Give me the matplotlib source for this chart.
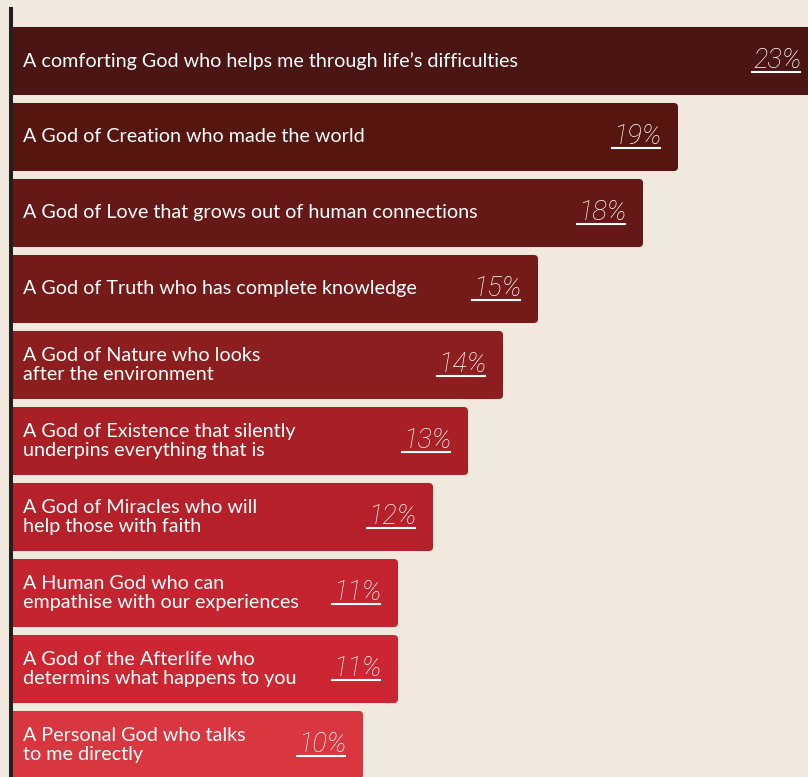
import matplotlib.pyplot as plt
from matplotlib.patches import FancyBboxPatch
from matplotlib.lines import Line2D

labels = [
    "A comforting God who helps me through life\u2019s difficulties",
    "A God of Creation who made the world",
    "A God of Love that grows out of human connections",
    "A God of Truth who has complete knowledge",
    "A God of Nature who looks\nafter the environment",
    "A God of Existence that silently\nunderpins everything that is",
    "A God of Miracles who will\nhelp those with faith",
    "A Human God who can\nempathise with our experiences",
    "A God of the Afterlife who\ndetermins what happens to you",
    "A Personal God who talks\nto me directly",
]
values = [23, 19, 18, 15, 14, 13, 12, 11, 11, 10]
colors = ["#4b1513", "#57150f", "#651815", "#741a19", "#8c1e1f",
          "#a81f26", "#b6202a", "#c42330", "#cc2633", "#d8373f"]

bg = "#f1e8de"
W, H = 808, 777
fig = plt.figure(figsize=(W / 100, H / 100), dpi=100, facecolor=bg)
ax = fig.add_axes([13 / W, 0, 1 - 13 / W, (H - 9) / H])
ax.set_facecolor(bg)

ypos = list(range(len(values)))
bars = ax.barh(ypos, values, height=0.895, color=colors)
ax.set_xlim(0, (W - 13) / 35)
ax.set_ylim(9.421, -0.684)

# swap plain rectangles for rounded ones
for b, c in zip(bars, colors):
    x, y, w, h = b.get_x(), b.get_y(), b.get_width(), b.get_height()
    b.remove()
    ax.add_patch(FancyBboxPatch((x - 0.3, y), w + 0.3, h,
                                boxstyle="round,pad=0,rounding_size=0.12",
                                mutation_aspect=0.44, fc=c, ec="none"))

for spine in ["top", "right", "bottom"]:
    ax.spines[spine].set_visible(False)
ax.spines["left"].set_position(("outward", 1.5))
ax.spines["left"].set_linewidth(2.9)
ax.spines["left"].set_color("#231f20")
ax.spines["left"].set_zorder(5)
ax.set_xticks([])
ax.set_yticks([])

pct_texts = []
for y, lab, v in zip(ypos, labels, values):
    ax.annotate(lab, (0, y), xytext=(7, 0), textcoords="offset points",
                ha="left", va="center", color="white", fontsize=14.2,
                family="Lato", linespacing=1.08)
    t = ax.annotate(f"{v}%", (v, y), xytext=(-12, 0.5), textcoords="offset points",
                    ha="right", va="center", color="white", fontsize=19.5,
                    family="Roboto", fontstyle="italic", fontweight="light",
                    annotation_clip=False)
    pct_texts.append(t)

fig.canvas.draw()
r = fig.canvas.get_renderer()
for t in pct_texts:
    bb = t.get_window_extent(r)
    yline = bb.y0 + 1.5
    fig.add_artist(Line2D([(bb.x0 - 1) / W, (bb.x1 - 1) / W], [yline / H, yline / H],
                          color="white", lw=1.5, transform=fig.transFigure))

fig.savefig("out.png", dpi=100, facecolor=bg)
